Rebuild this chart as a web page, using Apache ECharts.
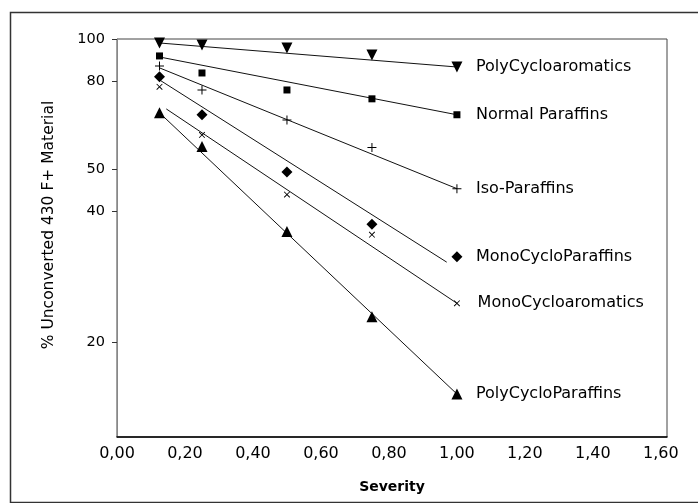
<!DOCTYPE html>
<html>
<head>
<meta charset="utf-8">
<script src="https://cdn.jsdelivr.net/npm/echarts@6/dist/echarts.min.js"></script>
<style>
html, body { margin: 0; padding: 0; background: #fff; }
#chart { width: 698px; height: 503px; }
</style>
</head>
<body>
<div id="chart"></div>
<script>
// severity values where the samples were taken
var severity = [0.125, 0.25, 0.5, 0.75, 1.0];

// % unconverted 430 F+ material, per compound class
var polyCycloaromatics = [97.9, 96.9, 95.3, 91.9, 86.2];
var normalParaffins = [91.4, 83.5, 76.3, 72.8, 66.9];
var isoParaffins = [86.7, 76.3, 65.1, 56.2, 45.2];
var monoCycloParaffins = [81.8, 66.9, 49.4, 37.4, 31.5];
var monoCycloaromatics = [77.6, 60.1, 43.8, 35.4, 24.6];
var polyCycloParaffins = [67.6, 56.5, 36.0, 22.9, 15.2];

// fitted trend lines: [x, y] at start and end
var fitPolyCycloaromatics = [[0.125, 97.9], [1.0, 86.2]];
var fitNormalParaffins = [[0.125, 90.9], [1.0, 66.9]];
var fitIsoParaffins = [[0.125, 85.8], [1.0, 45.2]];
var fitMonoCycloParaffins = [[0.125, 80.5], [0.97, 30.6]];
var fitMonoCycloaromatics = [[0.145, 69.0], [1.0, 24.6]];
var fitPolyCycloParaffins = [[0.125, 67.6], [1.0, 15.2]];

var yTicks = [20, 40, 50, 80, 100];

var FONT = 'DejaVu Sans';
var PLUS = 'path://M4,0H5V4H9V5H5V9H4V5H0V4H4Z';

var groups = [
    {name: 'PolyCycloaromatics', values: polyCycloaromatics, fit: fitPolyCycloaromatics, symbol: 'triangle', size: 11, rotate: 180},
    {name: 'Normal Paraffins', values: normalParaffins, fit: fitNormalParaffins, symbol: 'rect', size: 7, rotate: 0},
    {name: 'Iso-Paraffins', values: isoParaffins, fit: fitIsoParaffins, symbol: PLUS, size: 9, rotate: 0},
    {name: 'MonoCycloParaffins', values: monoCycloParaffins, fit: fitMonoCycloParaffins, symbol: 'diamond', size: 11, rotate: 0},
    {name: 'MonoCycloaromatics', values: monoCycloaromatics, fit: fitMonoCycloaromatics, symbol: PLUS, size: 8, rotate: 45},
    {name: 'PolyCycloParaffins', values: polyCycloParaffins, fit: fitPolyCycloParaffins, symbol: 'triangle', size: 11, rotate: 0}
];

var series = [];
groups.forEach(function (g) {
    // trend line
    series.push({
        name: g.name + ' fit',
        type: 'line',
        data: g.fit,
        showSymbol: false,
        silent: true,
        lineStyle: {color: '#111', width: 1},
        z: 1
    });
    // measured points, label on the last one
    var pts = severity.map(function (x, i) {
        var item = {value: [x, g.values[i]]};
        if (i == severity.length - 1) {
            item.label = {
                show: true,
                position: 'right',
                distance: 19 - g.size / 2,
                formatter: g.name,
                color: '#000',
                fontFamily: FONT,
                fontSize: 16
            };
        }
        return item;
    });
    series.push({
        name: g.name,
        type: 'scatter',
        data: pts,
        symbol: g.symbol,
        symbolSize: g.size,
        symbolRotate: g.rotate,
        itemStyle: {color: '#000', opacity: 1},
        z: 3
    });
});

var myChart = echarts.init(document.getElementById('chart'));
var option = {
    backgroundColor: '#fff',
    animation: false,
    graphic: [{
        type: 'rect',
        left: 8,
        top: 10,
        shape: {width: 700, height: 490},
        style: {fill: 'none', stroke: '#333', lineWidth: 1.5},
        silent: true
    }],
    grid: {
        left: 117,
        right: 31,
        top: 39,
        bottom: 66,
        show: true,
        borderColor: '#444',
        borderWidth: 1
    },
    xAxis: {
        type: 'value',
        min: 0,
        max: 1.618,
        interval: 0.2,
        name: 'Severity',
        nameLocation: 'middle',
        nameGap: 43,
        nameTextStyle: {color: '#000', fontFamily: FONT, fontSize: 14, fontWeight: 'bold'},
        axisLine: {lineStyle: {color: '#000', width: 1.5}},
        axisTick: {show: false},
        splitLine: {show: false},
        axisLabel: {
            color: '#000',
            fontFamily: FONT,
            fontSize: 16,
            margin: 9,
            formatter: function (v) {
                if (Math.abs(v * 5 - Math.round(v * 5)) > 1e-6) return '';
                return v.toFixed(2).replace('.', ',');
            }
        }
    },
    yAxis: {
        type: 'log',
        logBase: 10,
        min: 12.1,
        max: 100,
        name: '% Unconverted 430 F+ Material',
        nameLocation: 'middle',
        nameGap: 60,
        nameTextStyle: {color: '#000', fontFamily: FONT, fontSize: 15.5, padding: [0, 0, 0, 26]},
        axisLine: {lineStyle: {color: '#888', width: 1}},
        axisTick: {show: true, customValues: yTicks, length: 5, lineStyle: {color: '#333'}},
        splitLine: {show: false},
        axisLabel: {
            customValues: yTicks,
            color: '#000',
            fontFamily: FONT,
            fontSize: 14.5,
            margin: 12
        }
    },
    series: series
};
myChart.setOption(option);
</script>
</body>
</html>
